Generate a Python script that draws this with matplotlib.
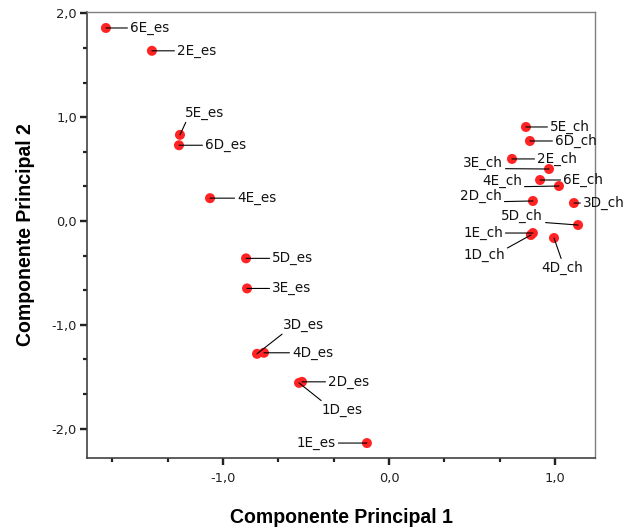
import matplotlib
matplotlib.use("Agg")
import matplotlib.pyplot as plt
from matplotlib.ticker import MultipleLocator, FuncFormatter

# Component scores
labels = ["6E_es", "2E_es", "5E_es", "6D_es", "4E_es", "5D_es", "3E_es",
          "3D_es", "4D_es", "2D_es", "1D_es", "1E_es",
          "5E_ch", "6D_ch", "2E_ch", "3E_ch", "6E_ch", "4E_ch",
          "2D_ch", "3D_ch", "5D_ch", "1E_ch", "1D_ch", "4D_ch"]
pc1 = [-1.705, -1.428, -1.259, -1.265, -1.078, -0.861, -0.855,
       -0.795, -0.753, -0.524, -0.542, -0.133,
       0.825, 0.849, 0.741, 0.964, 0.910, 1.024,
       0.867, 1.114, 1.139, 0.867, 0.855, 0.994]
pc2 = [1.86, 1.64, 0.83, 0.73, 0.22, -0.36, -0.65,
       -1.28, -1.27, -1.55, -1.56, -2.14,
       0.906, 0.771, 0.598, 0.501, 0.395, 0.337,
       0.193, 0.173, -0.039, -0.116, -0.135, -0.164]

# label placement: offset (px) from point, horizontal align, leader start on text box
label_offsets = [(24, 0), (25, 0), (5, 22), (26, 0), (27, 0), (26, 0), (25, 0),
                 (26, 29), (28, 0), (26, 0), (23, -27), (-31, 0),
                 (24, 0), (25, 0), (25, 0), (-46, 6), (23, 0), (-37, 5),
                 (-31, 5), (9, 0), (-35, 9), (-30, 0), (-26, -20), (8, -30)]
label_ha = ["left", "left", "left", "left", "left", "left", "left",
            "left", "left", "left", "left", "right",
            "left", "left", "left", "right", "left", "right",
            "right", "left", "right", "right", "right", "center"]
label_relpos = [(0, 0.5), (0, 0.5), (0.05, 0), (0, 0.5), (0, 0.5), (0, 0.5), (0, 0.5),
                (0.05, 0), (0, 0.5), (0, 0.5), (0.05, 1), (1, 0.5),
                (0, 0.5), (0, 0.5), (0, 0.5), (1, 0.1), (0, 0.5), (1, 0.1),
                (1, 0.1), (0, 0.5), (1, 0.05), (1, 0.5), (1, 0.9), (0.5, 1)]

W, H = 632, 532
fig = plt.figure(figsize=(W / 72, H / 72), dpi=72)
ax = fig.add_axes([87 / W, 74 / H, 508 / W, 446 / H])

ax.scatter(pc1, pc2, s=100, color="#ff2323", edgecolors="none", zorder=2)

for name, x, y, off, ha, rp in zip(labels, pc1, pc2, label_offsets, label_ha, label_relpos):
    ax.annotate(name, xy=(x, y), xytext=off, textcoords="offset points",
                ha=ha, va="center", fontsize=13.5, family="DejaVu Sans",
                color="#111111",
                arrowprops=dict(arrowstyle="-", color="black", lw=1.1,
                                shrinkA=0.5, shrinkB=0, relpos=rp),
                zorder=3)

ax.set_xlim(-1.819, 1.241)
ax.set_ylim(-2.284, 2.014)

ax.xaxis.set_major_locator(MultipleLocator(1.0))
ax.yaxis.set_major_locator(MultipleLocator(1.0))
ax.xaxis.set_minor_locator(MultipleLocator(1 / 3))
ax.yaxis.set_minor_locator(MultipleLocator(1 / 3))
fmt = FuncFormatter(lambda v, p: f"{v:.1f}".replace(".", ",").replace("-0,0", "0,0"))
ax.xaxis.set_major_formatter(fmt)
ax.yaxis.set_major_formatter(fmt)

ax.tick_params(axis="both", which="major", direction="out", length=7, width=2.4,
               color="#222222", labelsize=13, labelcolor="#222222")
ax.tick_params(axis="both", which="minor", direction="out", length=4, width=2.2,
               color="#222222")
ax.tick_params(axis="x", which="major", pad=7)
ax.tick_params(axis="y", which="major", pad=3)

for side in ["left", "bottom"]:
    ax.spines[side].set_color("#3a3a3a")
    ax.spines[side].set_linewidth(1.6)
for side in ["top", "right"]:
    ax.spines[side].set_color("#808080")
    ax.spines[side].set_linewidth(1.4)

ax.set_xlabel("Componente Principal 1", fontsize=19.5, fontweight="bold",
              family="Liberation Sans")
ax.set_ylabel("Componente Principal 2", fontsize=19.5, fontweight="bold",
              family="Liberation Sans")
ax.xaxis.set_label_coords(0.5, -0.112)
ax.yaxis.set_label_coords(-0.102, 0.5)

fig.savefig("out.png", dpi=72)
